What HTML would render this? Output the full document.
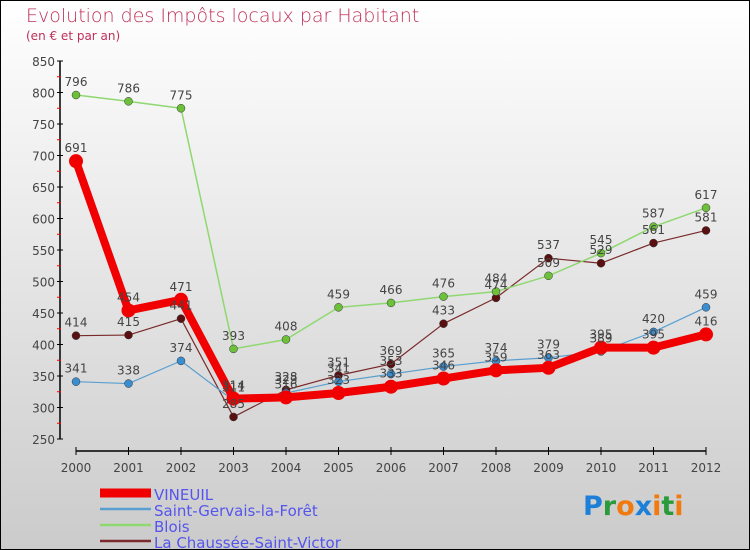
<!DOCTYPE html>
<html><head><meta charset="utf-8"><style>
body{margin:0}
#c{width:750px;height:550px;position:relative;overflow:hidden;box-sizing:border-box;border:1px solid #000;background:linear-gradient(#fff,#cbcbcb);font-family:"DejaVu Sans","Liberation Sans",sans-serif}
</style></head><body>
<div id="c">
<svg width="750" height="550" id="svg" style="position:absolute;left:-1px;top:-1px">
<text x="26" y="22" font-size="19" fill="#c0305a" font-family="DejaVu Sans" font-weight="200">Evolution des Impôts locaux par Habitant</text>
<text x="26" y="40" font-size="12" fill="#c0305a">(en € et par an)</text>
<g id="axes"></g><g id="series"></g><g id="legend"></g>
<text x="583" y="515" font-size="27" font-family="DejaVu Sans" font-weight="bold"><tspan fill="#1e7fd8">P</tspan><tspan fill="#2a9a3a">r</tspan><tspan fill="#f07a10">o</tspan><tspan fill="#1e7fd8">x</tspan><tspan fill="#f07a10">i</tspan><tspan fill="#2a9a3a">t</tspan><tspan fill="#f07a10">i</tspan></text>
</svg>
</div>
<script>
const years=[2000,2001,2002,2003,2004,2005,2006,2007,2008,2009,2010,2011,2012];
const yTicks=[250,300,350,400,450,500,550,600,650,700,750,800,850];
const vineuil=[691,454,471,314,316,323,333,346,359,363,395,395,416];
const stGervais=[341,338,374,311,323,341,353,365,374,379,389,420,459];
const blois=[796,786,775,393,408,459,466,476,484,509,545,587,617];
const chaussee=[414,415,441,285,328,351,369,433,474,537,529,561,581];
const NS='http://www.w3.org/2000/svg';
const X=i=>76+i*52.5, Y=v=>439-(v-250)*0.63;
function mk(t,a,p){const e=document.createElementNS(NS,t);for(const k in a)e.setAttribute(k,a[k]);p.appendChild(e);return e;}
const ax=document.getElementById('axes');
let l=mk('line',{x1:60,y1:61,x2:60,y2:439,stroke:'#000','stroke-width':1.5},ax);

yTicks.forEach(v=>{mk('line',{x1:57,x2:63,y1:Y(v),y2:Y(v),stroke:'#000'},ax);
 if(v<850)mk('line',{x1:57,x2:61,y1:Y(v+25),y2:Y(v+25),stroke:'#f00'},ax);
 const t=mk('text',{x:55,y:Y(v)+5,'text-anchor':'end','font-size':12,fill:'#444'},ax);t.textContent=v;
 });
l=mk('line',{x1:76,y1:451,x2:706,y2:451,stroke:'#000','stroke-width':1.5},ax);

years.forEach((y,i)=>{mk('line',{x1:X(i),x2:X(i),y1:447,y2:455,stroke:'#000'},ax);
 const t=mk('text',{x:X(i),y:472,'text-anchor':'middle','font-size':12,fill:'#444'},ax);t.textContent=y;
 });
const S=document.getElementById('series');
const series=[
 {d:chaussee,c:'#7a2a2a',f:'#5a1010',w:1.2,r:4,n:'la-chaussee'},
 {d:blois,c:'#8fd870',f:'#6cc03a',w:1.5,r:4,n:'blois'},
 {d:stGervais,c:'#5a9fd0',f:'#3a8ed0',w:1.2,r:4,n:'saint-gervais'},
 {d:vineuil,c:'#f00000',f:'#f00000',w:8,r:7,n:'vineuil'}];
const order=[3,2,1,0];
series.forEach(s=>{const g=mk('g',{},S);
 const p=mk('polyline',{points:s.d.map((v,i)=>X(i)+','+Y(v)).join(' '),fill:'none',stroke:s.c,'stroke-width':s.w,'stroke-linejoin':'round'},g);
 
 s.d.forEach((v,i)=>{const c=mk('circle',{cx:X(i),cy:Y(v),r:s.r,fill:s.f,stroke:s.r>5?'none':'#333','stroke-width':0.5},g);
  });});
series.forEach(s=>{s.d.forEach((v,i)=>{const t=mk('text',{x:X(i),y:Y(v)-9,'text-anchor':'middle','font-size':12,fill:'#444'},S);t.textContent=v;
 });});
const L=document.getElementById('legend');
const names=['VINEUIL','Saint-Gervais-la-Forêt','Blois','La Chaussée-Saint-Victor'];
order.forEach((si,k)=>{const s=series[si];const y=493+k*16;
 const g=mk('g',{},L);
 mk('line',{x1:100,x2:151,y1:y,y2:y,stroke:s.c,'stroke-width':k==0?9:2.5},g);
 const t=mk('text',{x:154,y:y+7,'font-size':15,fill:'#5555ee'},g);t.textContent=names[k];});
</script>
</body></html>
